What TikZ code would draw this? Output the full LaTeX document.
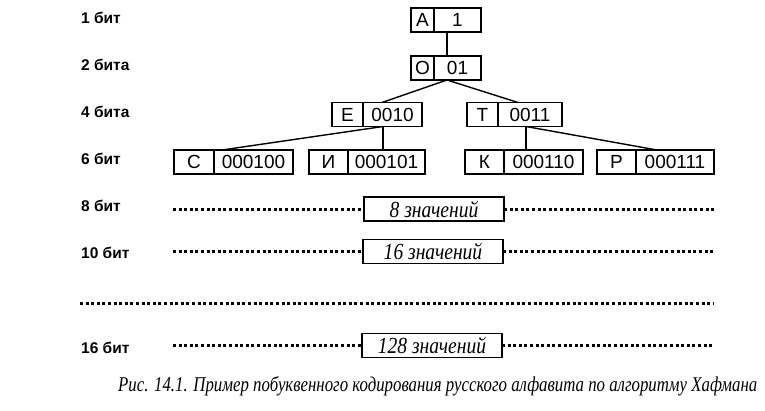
\documentclass[tikz,border=0pt]{standalone}
\usepackage{fontspec}
\setmainfont{Liberation Sans}
\newfontfamily\sansf{Liberation Sans}
\newfontfamily\seriff{Liberation Serif}
\newcommand\labfont{\sansf\bfseries\fontsize{15.5}{17}\selectfont}
\newcommand\boxfont{\sansf\fontsize{19}{21}\selectfont}
\newcommand\valtext[1]{\scalebox{0.85}[1]{\seriff\itshape\fontsize{23}{25}\selectfont #1}}
\newcommand\captext[1]{\resizebox{639pt}{\height}{\seriff\itshape\fontsize{21}{23}\selectfont #1}}
\begin{document}
\begin{tikzpicture}[x=1pt,y=-1pt,
  lab/.style={font=\labfont, anchor=west, inner sep=0pt},
  part/.style={draw, line width=1.6pt, minimum height=24pt, inner sep=0pt, outer sep=0pt, font=\boxfont},
  valbox/.style={draw, line width=1.6pt, minimum height=24pt, minimum width=140pt, inner sep=0pt, outer sep=0pt},
  link/.style={line width=1.4pt},
  dots/.style={line width=3pt, dash pattern=on 3pt off 2.6pt}]
\fill[white] (0,0) rectangle (765,410);
\useasboundingbox (0,0) rectangle (765,410);

% row labels
\node[lab] (l1)  at (81,17.5) {1 бит};
\node[lab] (l2)  at (81,65)   {2 бита};
\node[lab] (l4)  at (81,112)  {4 бита};
\node[lab] (l6)  at (81,159)  {6 бит};
\node[lab] (l8)  at (81,206)  {8 бит};
\node[lab] (l10) at (81,253)  {10 бит};
\node[lab] (l16) at (81,348)  {16 бит};

% code boxes
\node[part, minimum width=23pt] (Al) at (422.5,20) {А};
\node[part, minimum width=47pt, anchor=west] (Ac) at (Al.east) {1};
\node[part, minimum width=23pt] (Ol) at (422.5,68) {О};
\node[part, minimum width=47pt, anchor=west] (Oc) at (Ol.east) {01};
\node[part, minimum width=31pt] (El) at (347.5,114.5) {Е};
\node[part, minimum width=59pt, anchor=west] (Ec) at (El.east) {0010};
\node[part, minimum width=31pt] (Tl) at (482.5,114.5) {Т};
\node[part, minimum width=64pt, anchor=west] (Tc) at (Tl.east) {0011};
\node[part, minimum width=40pt] (Cl) at (194,162) {С};
\node[part, minimum width=79pt, anchor=west] (Cc) at (Cl.east) {000100};
\node[part, minimum width=39pt] (Il) at (328.5,162) {И};
\node[part, minimum width=77pt, anchor=west] (Ic) at (Il.east) {000101};
\node[part, minimum width=39pt] (Kl) at (484.5,162) {К};
\node[part, minimum width=79pt, anchor=west] (Kc) at (Kl.east) {000110};
\node[part, minimum width=39pt] (Pl) at (616.5,162) {Р};
\node[part, minimum width=78pt, anchor=west] (Pc) at (Pl.east) {000111};

% junctions
\coordinate (Oj) at ([xshift=-10.5pt]Oc.south);
\coordinate (Ej) at ([xshift=-9.5pt]Ec.south);
\coordinate (Tj) at ([xshift=-4pt]Tc.south);

% tree connectors
\draw[link] ([xshift=-10.5pt]Ac.south) -- ([xshift=-10.5pt]Oc.north);
\draw[link] (Oj) -- ([xshift=-10.5pt]Ec.north);
\draw[link] (Oj) -- ([xshift=-12pt]Tc.north);
\draw[link] (Ej) -- (Ej |- Ic.north);
\draw[link] (Ej) -- ([xshift=8pt]Cc.north west);
\draw[link] (Tj) -- (Tj |- Kc.north);
\draw[link] (Tj) -- ([xshift=21pt]Pc.north west);

% value boxes
\node[valbox] (v8)   at (434,209)   {\valtext{8 значений}};
\node[valbox] (v16)  at (433,251.5) {\valtext{16 значений}};
\node[valbox] (v128) at (432,345.5) {\valtext{128 значений}};

% dotted lines
\coordinate (d8s) at (173,209);     \coordinate (d8e) at (714,209);
\coordinate (d16s) at (173,251.5);  \coordinate (d16e) at (714,251.5);
\coordinate (d128s) at (173,345.5); \coordinate (d128e) at (714,345.5);
\coordinate (dms) at (80,303);      \coordinate (dme) at (713,303);
\draw[dots] (d8s) -- (v8.west);
\draw[dots] (v8.east) -- (d8e);
\draw[dots] (d16s) -- (v16.west);
\draw[dots] (v16.east) -- (d16e);
\draw[dots] (d128s) -- (v128.west);
\draw[dots] (v128.east) -- (d128e);
\draw[dots] (dms) -- (dme);

% caption
\node[anchor=base west, inner sep=0pt] (cap) at (118,391)
  {\captext{Рис. 14.1. Пример побуквенного кодирования русского алфавита по алгоритму Хафмана}};
\end{tikzpicture}
\end{document}
